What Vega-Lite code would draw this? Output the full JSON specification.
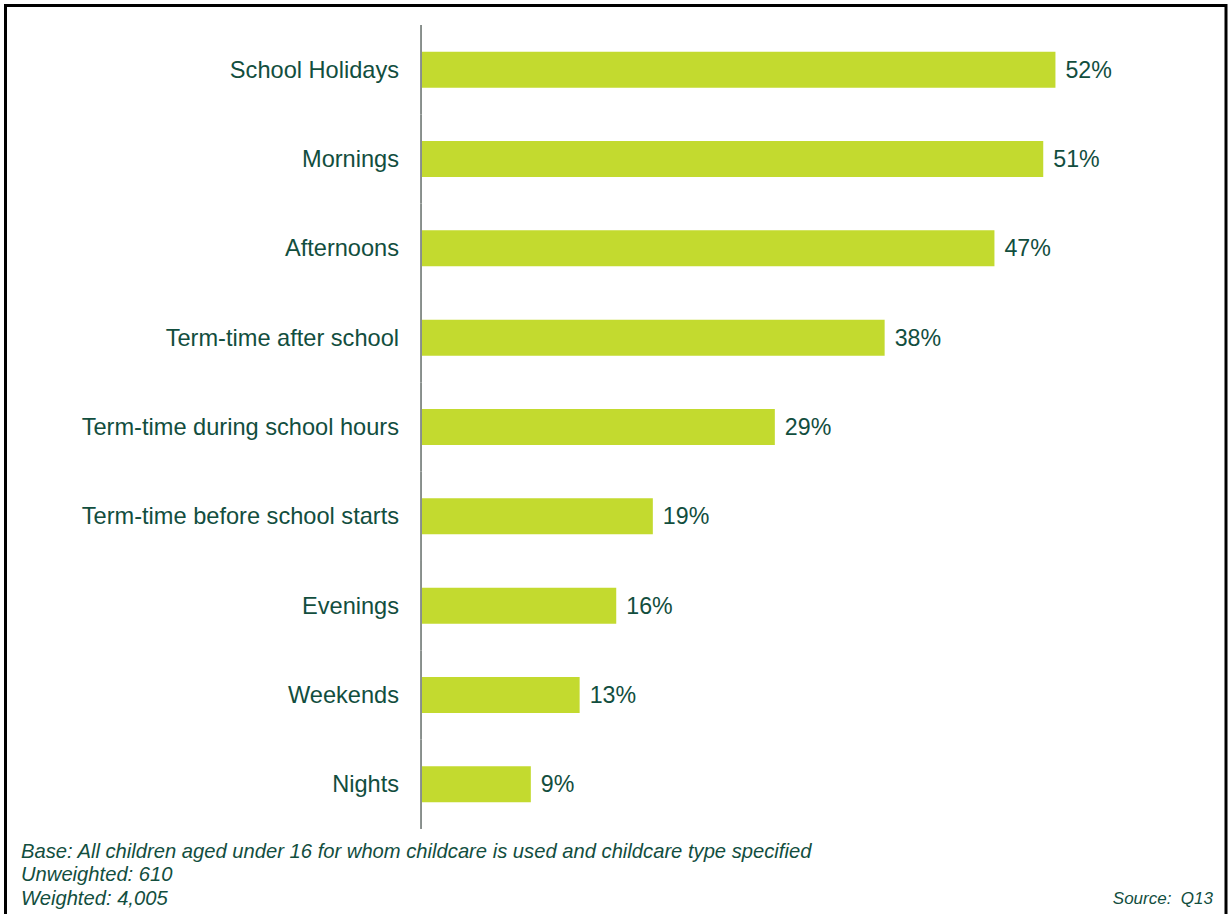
{
  "$schema": "https://vega.github.io/schema/vega-lite/v6.json",
  "width": 1220.5,
  "height": 911,
  "autosize": {"type": "none"},
  "padding": {"left": 5.5, "top": 5.5, "right": 6, "bottom": 0},
  "background": "#ffffff",
  "config": {
    "view": {"stroke": "#000000", "strokeWidth": 3},
    "axisX": {
      "labels": false, "ticks": false, "domain": false, "grid": false,
      "titleFont": "Liberation Sans", "titleFontSize": 17, "titleFontStyle": "italic", "titleFontWeight": "normal",
      "titleColor": "#124E3E", "titleAlign": "right", "titleBaseline": "alphabetic", "titleX": 1207, "titleY": -13
    }
  },
  "title": {
    "text": ["Base: All children aged under 16 for whom childcare is used and childcare type specified", "Unweighted: 610", "Weighted: 4,005"],
    "orient": "bottom", "anchor": "start", "frame": "group", "offset": -75, "dx": 15.5,
    "baseline": "top", "lineHeight": 23.8,
    "font": "Liberation Sans", "fontSize": 20.2, "fontStyle": "italic", "fontWeight": "normal", "color": "#124E3E"
  },
  "data": {"values": [
    {"category": "School Holidays", "value": 0.52},
    {"category": "Mornings", "value": 0.51},
    {"category": "Afternoons", "value": 0.47},
    {"category": "Term-time after school", "value": 0.38},
    {"category": "Term-time during school hours", "value": 0.29},
    {"category": "Term-time before school starts", "value": 0.19},
    {"category": "Evenings", "value": 0.16},
    {"category": "Weekends", "value": 0.13},
    {"category": "Nights", "value": 0.09}
  ]},
  "encoding": {
    "y": {
      "field": "category", "type": "nominal", "sort": null, "axis": null,
      "scale": {"type": "band", "paddingInner": 0, "paddingOuter": 0.599, "align": 0.182}
    }
  },
  "layer": [
    {
      "mark": {"type": "bar", "color": "#C3DA2F", "height": {"band": 0.403}},
      "encoding": {
        "x": {"field": "value", "type": "quantitative", "title": "Source:\u00a0\u00a0Q13",
              "scale": {"domain": [-0.3406, 0.6598], "nice": false, "zero": false}}
      }
    },
    {
      "mark": {"type": "rect", "color": "#878E8B"},
      "encoding": {
        "x": {"datum": -0.0008, "type": "quantitative", "title": "Source:\u00a0\u00a0Q13"},
        "x2": {"datum": 0.0008}
      }
    },
    {
      "mark": {"type": "text", "align": "right", "baseline": "middle", "dx": -22, "dy": 1,
               "font": "Liberation Sans", "fontSize": 23.6, "color": "#124E3E"},
      "encoding": {
        "x": {"datum": 0, "type": "quantitative", "title": "Source:\u00a0\u00a0Q13"},
        "text": {"field": "category"}
      }
    },
    {
      "mark": {"type": "text", "align": "left", "baseline": "middle", "dx": 10, "dy": 1,
               "font": "Liberation Sans", "fontSize": 23.2, "color": "#124E3E"},
      "encoding": {
        "x": {"field": "value", "type": "quantitative", "title": "Source:\u00a0\u00a0Q13"},
        "text": {"field": "value", "format": ".0%"}
      }
    }
  ]
}
